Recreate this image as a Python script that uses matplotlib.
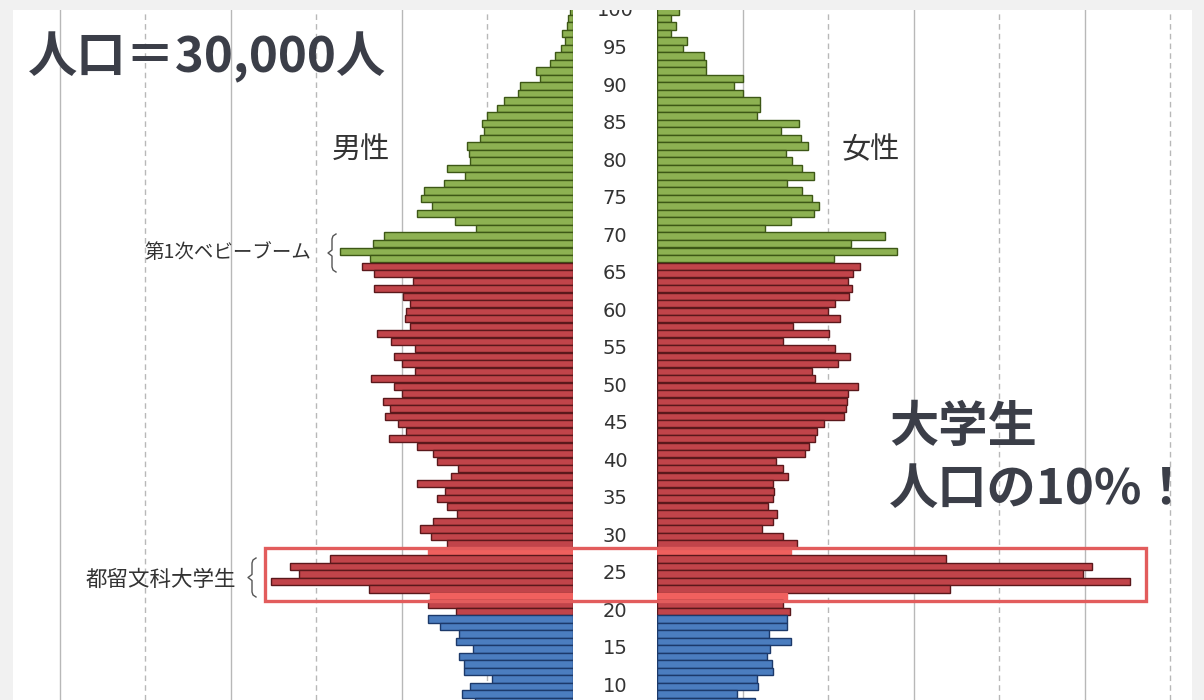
import matplotlib
matplotlib.use("Agg")
import matplotlib.pyplot as plt
from matplotlib.lines import Line2D
from matplotlib.patches import Rectangle

plt.rcParams['font.family'] = ['Noto Sans CJK JP', 'DejaVu Sans']

# ---------------- data (people per single year of age) ----------------
ages = list(range(100, 6, -1))  # 100 ... 7
male = [4, 6, 7, 13, 9, 14, 21, 27, 43, 39,          # 100-91
        62, 64, 81, 89, 101, 106, 104, 109, 124, 122,  # 90-81
        120, 147, 126, 151, 174, 178, 165, 183, 138, 113,  # 80-71
        221, 234, 273, 237, 247, 233, 187, 233, 199, 191,  # 70-61
        195, 196, 191, 229, 213, 185, 209, 200, 185, 236,  # 60-51
        209, 200, 222, 214, 220, 205, 195, 215, 182, 164,  # 50-41
        159, 135, 143, 182, 150, 159, 147, 136, 164, 179,  # 40-31
        166, 147, 170, 284, 331, 320, 353, 239, 167, 170,  # 30-21
        137, 170, 156, 133, 137, 117, 133, 127, 127, 95,   # 20-11
        120, 130, 115, 94]                                 # 10-7
female = [26, 16, 22, 16, 35, 30, 55, 57, 57, 101,
          90, 101, 120, 120, 117, 166, 145, 168, 177, 151,
          158, 170, 184, 152, 170, 181, 189, 184, 157, 126,
          267, 227, 281, 207, 237, 229, 223, 228, 225, 208,
          200, 214, 159, 201, 147, 208, 226, 212, 181, 185,
          235, 223, 222, 221, 219, 195, 187, 185, 178, 173,
          139, 147, 153, 136, 137, 136, 130, 140, 136, 123,
          147, 164, 157, 338, 509, 498, 553, 343, 152, 147,
          156, 152, 152, 131, 157, 132, 129, 135, 136, 117,
          118, 94, 115, 124]
age_ticks = list(range(10, 101, 5))
grid_steps = [100, 200, 300, 400, 500, 600]

ELDER_MIN = 67       # green from this age
WORK_MIN = 20        # red from this age
bright_rows = [28, 22]

# ---------------- layout helpers ----------------
W, H = 1204, 700
fig = plt.figure(figsize=(W / 100, H / 100), dpi=100, facecolor='#f1f1f1')

def fx(x):
    return x / W

def fy(y):
    return 1 - y / H

PANEL_L, PANEL_R, PANEL_T = 13, 1192, 10
MALE_R, FEMALE_L = 573, 657
PX_PER_UNIT = 0.855
Y_TOP_AGE = 10 + (686.5 - PANEL_T) / 7.506
Y_BOT_AGE = 10 + (686.5 - H) / 7.506

panel = fig.add_axes([fx(PANEL_L), 0, fx(PANEL_R - PANEL_L), (H - PANEL_T) / H])
panel.set_facecolor('white')
panel.set_xticks([]); panel.set_yticks([])
for s in panel.spines.values():
    s.set_visible(False)
panel.set_zorder(0)

axm = fig.add_axes([fx(PANEL_L), 0, fx(MALE_R - PANEL_L), (H - PANEL_T) / H])
axf = fig.add_axes([fx(FEMALE_L), 0, fx(PANEL_R - FEMALE_L), (H - PANEL_T) / H])
axc = fig.add_axes([fx(MALE_R), 0, fx(FEMALE_L - MALE_R), (H - PANEL_T) / H])

axm.set_xlim((MALE_R - PANEL_L) / PX_PER_UNIT, 0)
axf.set_xlim(0, (PANEL_R - FEMALE_L) / PX_PER_UNIT)
for ax in (axm, axf, axc):
    ax.set_ylim(Y_BOT_AGE, Y_TOP_AGE)
    ax.patch.set_alpha(0)
    ax.set_xticks([]); ax.set_yticks([])
    for s in ax.spines.values():
        s.set_visible(False)
    ax.set_zorder(1)
axc.set_xlim(0, 1)

GRID_C = '#b8b8b8'
for i, g in enumerate(grid_steps):
    male_style = (0, (4, 3)) if i % 2 == 0 else '-'
    fem_style = '-' if i % 2 == 0 else (0, (4, 3))
    axm.axvline(g, color=GRID_C, lw=1.0, ls=male_style, zorder=0)
    axf.axvline(g, color=GRID_C, lw=1.0, ls=fem_style, zorder=0)

GREEN, GREEN_E = '#8db152', '#3d5716'
RED, RED_E = '#c1444a', '#5a181b'
BLUE, BLUE_E = '#4b7dbf', '#1c396a'
BRIGHT = '#f0605e'

def colors_for(a):
    if a in bright_rows:
        return BRIGHT, BRIGHT
    if a >= ELDER_MIN:
        return GREEN, GREEN_E
    if a >= WORK_MIN:
        return RED, RED_E
    return BLUE, BLUE_E

fc = [colors_for(a)[0] for a in ages]
ec = [colors_for(a)[1] for a in ages]
axm.barh(ages, male, height=0.97, color=fc, edgecolor=ec, linewidth=1.0, zorder=2)
axf.barh(ages, female, height=0.97, color=fc, edgecolor=ec, linewidth=1.0, zorder=2)

# age labels in the centre column
for t in age_ticks:
    axc.text(0.5, t, str(t), ha='center', va='center', fontsize=14,
             color='#333333', family=['Liberation Sans Narrow', 'DejaVu Sans'],
             clip_on=True)

# ---------------- annotations ----------------
TXT = '#3b3e48'
fig.text(fx(28), fy(57), '人口＝30,000人', fontsize=35.5, fontweight='bold',
         color=TXT, ha='left', va='center')
fig.text(fx(361), fy(150), '男性', fontsize=21, color='#333333', ha='center', va='center')
fig.text(fx(871), fy(150), '女性', fontsize=21, color='#333333', ha='center', va='center')
fig.text(fx(228), fy(253), '第1次ベビーブーム', fontsize=14, color='#333333',
         ha='center', va='center')
fig.text(fx(161), fy(580), '都留文科大学生', fontsize=15.5, color='#333333',
         ha='center', va='center')
fig.text(fx(889), fy(428), '大学生', fontsize=35.5, fontweight='bold', color=TXT,
         ha='left', va='center')
fig.text(fx(889), fy(490), '人口の10%！', fontsize=35.5, fontweight='bold', color=TXT,
         ha='left', va='center')

def brace(x, y0, y1):
    mid = (y0 + y1) / 2
    xs = [x + 4, x + 1, x, x, x - 4, x, x, x + 1, x + 4]
    ys = [y0, y0 + 2, y0 + 5, mid - 3, mid, mid + 3, y1 - 5, y1 - 2, y1]
    fig.add_artist(Line2D([fx(v) for v in xs], [fy(v) for v in ys],
                          transform=fig.transFigure, color='#555555', lw=1.0))

brace(332, 234, 272)
brace(252, 558, 597)

BOX_T, BOX_B = 547.5, 601
fig.add_artist(Rectangle((fx(265), fy(BOX_B)), fx(1146 - 265), (BOX_B - BOX_T) / H,
                         transform=fig.transFigure, fill=False,
                         edgecolor='#e25c5c', lw=2.4, zorder=10))

fig.savefig('out.png', dpi=100, facecolor=fig.get_facecolor())
